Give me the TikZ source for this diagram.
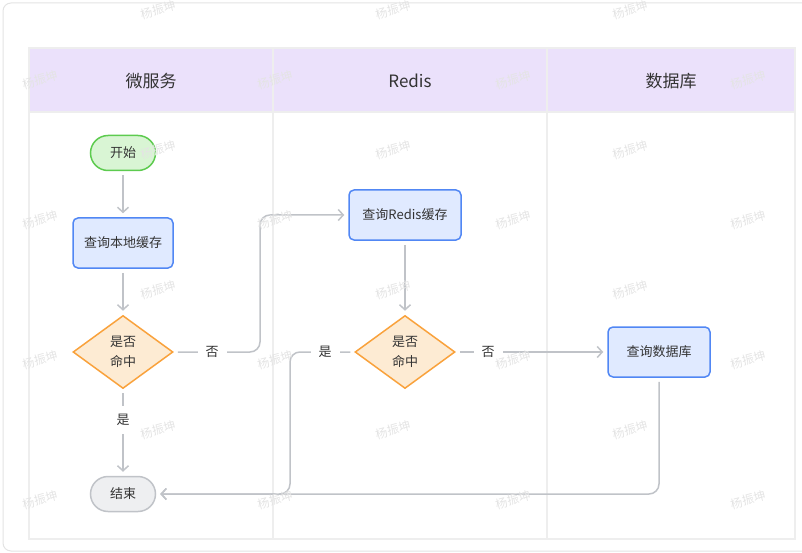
\documentclass[tikz,border=0pt]{standalone}
\usepackage{fontspec}
\setmainfont{Noto Sans CJK SC}
\usetikzlibrary{shapes.geometric,arrows.meta,positioning,calc}
\definecolor{cardline}{HTML}{E3E3E3}
\definecolor{gridline}{HTML}{EEEEEE}
\definecolor{headfill}{HTML}{EBE1FB}
\definecolor{startfill}{HTML}{D9F5D4}
\definecolor{startline}{HTML}{5DCB4F}
\definecolor{procfill}{HTML}{E0EAFF}
\definecolor{procline}{HTML}{5187F4}
\definecolor{decfill}{HTML}{FDEBD3}
\definecolor{decline}{HTML}{F9A23C}
\definecolor{endfill}{HTML}{EEEFF1}
\definecolor{endline}{HTML}{C0C3C8}
\definecolor{connline}{HTML}{C0C3C8}
\definecolor{txt}{HTML}{333333}
\definecolor{wmark}{HTML}{E4E4E4}
\tikzset{
  nodetext/.style={text=txt, font=\fontsize{13}{20}\selectfont},
  terminal/.style={nodetext, rectangle, rounded corners=17.5pt, line width=1.5pt,
     minimum width=65pt, minimum height=35pt, inner sep=0pt},
  startbox/.style={terminal, draw=startline, fill=startfill},
  endbox/.style={terminal, draw=endline, fill=endfill},
  procbox/.style={nodetext, rectangle, rounded corners=5pt, line width=1.5pt,
     draw=procline, fill=procfill, minimum height=50pt, inner sep=0pt},
  decbox/.style={nodetext, diamond, line width=1.5pt, draw=decline, fill=decfill,
     minimum width=100pt, minimum height=73pt, inner sep=0pt, align=center},
  conn/.style={draw=connline, line width=1.5pt, rounded corners=10pt,
     -{Straight Barb[length=5pt,width=11pt,line width=1.5pt]}, shorten >=4pt, shorten <=4pt},
  plainconn/.style={draw=connline, line width=1.5pt, rounded corners=10pt, shorten <=4pt},
  lbl/.style={nodetext, fill=white, inner xsep=8pt, inner ysep=8pt},
  headtext/.style={text=txt, font=\fontsize{17}{20}\selectfont},
  wm/.style={text=wmark, font=\fontsize{12}{14}\selectfont, rotate=15}
}
\begin{document}
\begin{tikzpicture}[x=1pt,y=-1pt]
\useasboundingbox (0,0) rectangle (802,553);
% card
\draw[cardline, line width=1pt, rounded corners=8pt] (3,3) rectangle (812,551);
% swimlane table
\fill[headfill] (29,48) rectangle (795,112);
\draw[gridline, line width=1.5pt] (29,48) rectangle (795,539);
\draw[gridline, line width=1.5pt] (29,112) -- (795,112);
\draw[gridline, line width=1.5pt] (273,48) -- (273,539);
\draw[gridline, line width=1.5pt] (547,48) -- (547,539);
\node[headtext] (h1) at (151,81) {微服务};
\node[headtext] (h2) at (410,81) {Redis};
\node[headtext] (h3) at (671,81) {数据库};
% nodes
\node[startbox] (start) at (123,153) {开始};
\node[procbox, minimum width=100pt] (local) at (123,243) {查询本地缓存};
\node[decbox] (d1) at (123,352) {是否\\命中};
\node[endbox] (end) at (123,494) {结束};
\node[procbox, minimum width=112pt] (redis) at (405,215) {查询Redis缓存};
\node[decbox] (d2) at (405,352) {是否\\命中};
\node[procbox, minimum width=102pt] (db) at (659,352) {查询数据库};
\coordinate (c1) at (260,352);
\coordinate (c2) at (290,352);
% connectors
\draw[conn] (start) -- (local);
\draw[conn] (local) -- (d1);
\draw[conn] (d1.east) -- (c1) |- (redis.west);
\draw[conn] (d1.south) -- (end.north);
\draw[conn] (redis) -- (d2);
\draw[conn] (d2.west) -- (c2) |- (end.east);
\draw[conn] (d2.east) -- (db.west);
\draw[conn] (db.south) |- (end.east);
% labels
\node[lbl] (l1) at (212,352) {否};
\node[lbl] (l2) at (123,420) {是};
\node[lbl] (l3) at (325,352) {是};
\node[lbl] (l4) at (488,352) {否};
% watermarks
\foreach \yy in {10,150,290,430} {
  \foreach \xx in {158,393,630} { \node[wm] at (\xx,\yy) {杨振坤}; }
}
\foreach \yy in {80,220,360,500} {
  \foreach \xx in {40,275,513,748} { \node[wm] at (\xx,\yy) {杨振坤}; }
}
\end{tikzpicture}
\end{document}
